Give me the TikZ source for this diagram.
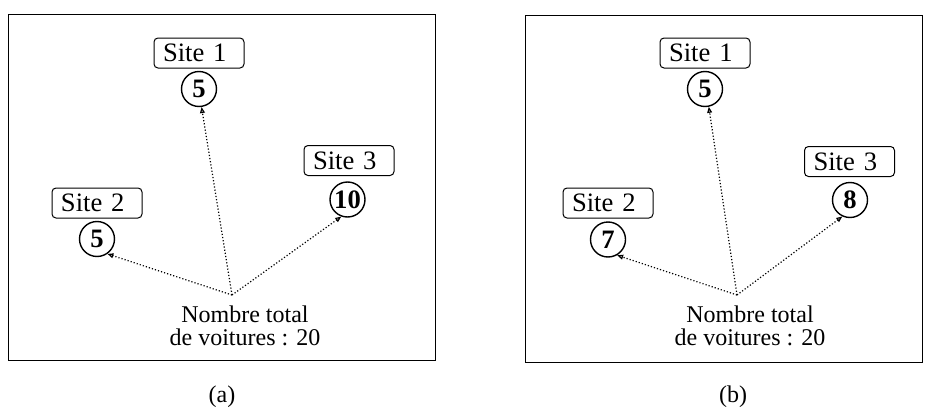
\documentclass[tikz,border=0pt]{standalone}
\usepackage{fontspec}
\setmainfont{Liberation Serif}
\usetikzlibrary{arrows.meta,calc}

\begin{document}
\begin{tikzpicture}[x=0.5pt,y=-0.5pt,
        sitebox/.style={draw, rounded corners=2pt, line width=0.5pt, text width=36pt, align=left, inner xsep=4.5pt, inner ysep=0pt, minimum height=15pt, font=\fontsize{13.3}{14}\selectfont},
        carnum/.style={draw, circle, line width=0.7pt, minimum size=17.5pt, inner sep=0pt, font=\fontsize{13.3}{14}\selectfont\bfseries},
        total/.style={align=center, inner sep=0pt, font=\fontsize{12}{11.5}\selectfont},
        flow/.style={densely dotted, line width=0.6pt, -{Triangle[open,length=3pt,width=2.4pt]}}]

    \useasboundingbox (0,0) rectangle (943,412);

    % (a)
    \draw[line width=0.5pt] (8,14) rectangle (435,360);
    \node[sitebox] (s1a) at (199,53) {Site 1};
    \node[sitebox] (s2a) at (97,203) {Site 2};
    \node[sitebox] (s3a) at (349,160.5) {Site 3};
    \node[carnum] (c1a) at ($(s1a)+(0,36)$) {5};
    \node[carnum] (c2a) at ($(s2a)+(0,36)$) {5};
    \node[carnum] (c3a) at ($(s3a)+(-1.5,39)$) {10};
    \coordinate (srca) at (232,295);
    \node[total] (ta) at (245,326) {Nombre total\\de voitures : 20};
    \draw[flow] (srca) -- (c1a.-82);
    \draw[flow] (srca) -- (c2a.-55);
    \draw[flow] (srca) -- (c3a.-110);
    \node[font=\fontsize{12}{14}\selectfont] (la) at (222,397) {(a)};

    % (b)
    \draw[line width=0.5pt] (525,15) rectangle (922,362);
    \node[sitebox] (s1b) at (705,53) {Site 1};
    \node[sitebox] (s2b) at (608,203) {Site 2};
    \node[sitebox] (s3b) at (849.5,161.5) {Site 3};
    \node[carnum] (c1b) at ($(s1b)+(0,36)$) {5};
    \node[carnum] (c2b) at ($(s2b)+(0,36.5)$) {7};
    \node[carnum] (c3b) at ($(s3b)+(0.5,38.5)$) {8};
    \coordinate (srcb) at (737,295);
    \node[total] (tb) at (750,326) {Nombre total\\de voitures : 20};
    \draw[flow] (srcb) -- (c1b.-78);
    \draw[flow] (srcb) -- (c2b.-60);
    \draw[flow] (srcb) -- (c3b.-115);
    \node[font=\fontsize{12}{14}\selectfont] (lb) at (733,397) {(b)};
\end{tikzpicture}
\end{document}
